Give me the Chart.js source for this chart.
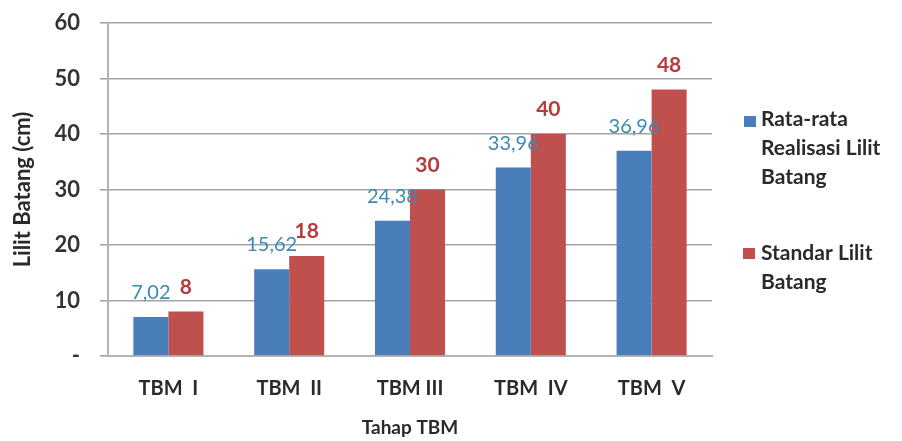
<!DOCTYPE html>
<html>
<head>
<meta charset="utf-8">
<script src="https://cdn.jsdelivr.net/npm/chart.js@4.4.1/dist/chart.umd.min.js"></script>
<style>
  html, body { margin: 0; padding: 0; background: #fff; }
  #wrap { width: 902px; height: 441px; position: relative; }
</style>
</head>
<body>
<div id="wrap"><canvas id="c" width="902" height="441"></canvas></div>
<script>
// Stages and the two measured series (stem girth, cm)
const categories = ['TBM  I', 'TBM  II', 'TBM III', 'TBM  IV', 'TBM  V'];
const realisasi = [7.02, 15.62, 24.38, 33.96, 36.96];
const standar = [8, 18, 30, 40, 48];
const seriesNames = [['Rata-rata', 'Realisasi Lilit', 'Batang'], ['Standar Lilit', 'Batang']];
const yTicks = [0, 10, 20, 30, 40, 50, 60];

const FONT = 'Lato, "Open Sans", sans-serif';
const BLUE = '#4a7ebb';
const RED = '#c0504d';
const BLUE_LABEL = '#3a8ab4';
const RED_LABEL = '#b83a3a';
const TEXT = '#2a2a2a';

function fmt(v) {
  return String(v).replace('.', ',');
}

// Value labels drawn above each bar
const valueLabels = {
  id: 'valueLabels',
  afterDatasetsDraw(chart) {
    const ctx = chart.ctx;
    ctx.save();
    ctx.textAlign = 'center';
    ctx.textBaseline = 'alphabetic';
    chart.data.datasets.forEach((ds, i) => {
      const meta = chart.getDatasetMeta(i);
      ctx.fillStyle = i === 0 ? BLUE_LABEL : RED_LABEL;
      ctx.font = i === 0 ? '20px ' + FONT : 'bold 21px ' + FONT;
      meta.data.forEach((bar, j) => {
        ctx.fillText(fmt(ds.data[j]), bar.x, bar.y - 18);
      });
    });
    ctx.restore();
  }
};

// Legend on the right with wrapped item names
const sideLegend = {
  id: 'sideLegend',
  afterDraw(chart) {
    const ctx = chart.ctx;
    ctx.save();
    ctx.font = 'bold 21px ' + FONT;
    ctx.textBaseline = 'alphabetic';
    const items = [
      { color: BLUE, box: [744, 116], base: 126 },
      { color: RED, box: [743, 248], base: 260 }
    ];
    seriesNames.forEach((lines, i) => {
      const it = items[i];
      ctx.fillStyle = it.color;
      ctx.fillRect(it.box[0], it.box[1], 12, 11);
      ctx.fillStyle = TEXT;
      lines.forEach((t, k) => {
        ctx.fillText(t, 761, it.base + k * 29);
      });
    });
    ctx.restore();
  }
};

new Chart(document.getElementById('c'), {
  type: 'bar',
  data: {
    labels: categories,
    datasets: [
      { label: seriesNames[0].join(' '), data: realisasi, backgroundColor: BLUE },
      { label: seriesNames[1].join(' '), data: standar, backgroundColor: RED }
    ]
  },
  options: {
    responsive: false,
    animation: false,
    devicePixelRatio: 1,
    layout: { padding: { left: 10, right: 190, top: 23, bottom: 2 } },
    plugins: { legend: { display: false }, tooltip: { enabled: false } },
    datasets: { bar: { categoryPercentage: 0.58, barPercentage: 1.0 } },
    scales: {
      x: {
        grid: { display: false, drawTicks: false },
        border: { display: true, color: '#b4b4b4', width: 2 },
        ticks: { color: TEXT, font: { family: FONT, size: 20, weight: 'bold' }, padding: 21 },
        title: { display: true, text: 'Tahap TBM', color: TEXT, font: { family: FONT, size: 19, weight: 'bold' }, padding: { top: 14, bottom: 0 } },
        afterFit(scale) {
          scale.height = 83;
          scale.paddingLeft = 0;
          scale.paddingRight = 0;
        }
      },
      y: {
        min: 0, max: 60,
        afterBuildTicks(scale) { scale.ticks = yTicks.map(v => ({ value: v })); },
        grid: { color: '#a3a3a3', lineWidth: 1.6, tickLength: 8 },
        border: { display: true, color: '#b4b4b4', width: 2 },
        ticks: {
          color: '#333',
          font: { family: FONT, size: 22, weight: 'bold' },
          padding: 20,
          callback: v => (v === 0 ? '-' : v)
        },
        title: { display: true, text: 'Lilit Batang (cm)', color: TEXT, font: { family: FONT, size: 22, weight: 'bold' }, padding: { top: 0, bottom: 4 } },
        afterFit(scale) {
          scale.width = 98;
          scale.paddingTop = 0;
          scale.paddingBottom = 0;
        }
      }
    }
  },
  plugins: [valueLabels, sideLegend]
});
</script>
</body>
</html>
